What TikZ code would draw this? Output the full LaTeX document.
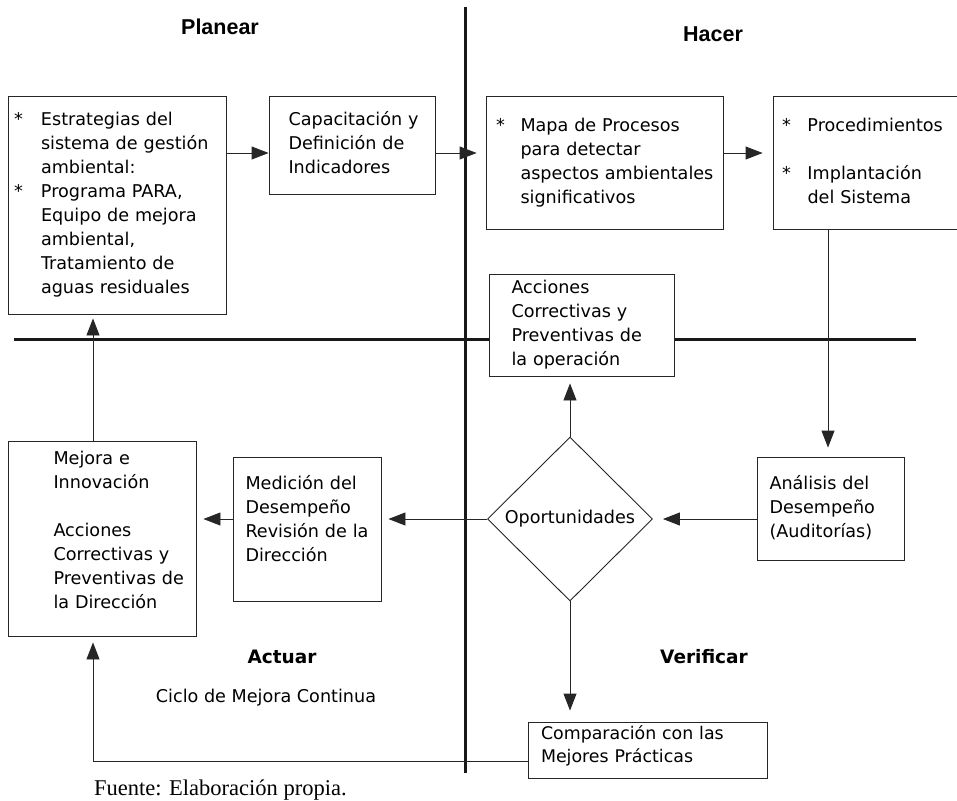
\documentclass[tikz,border=0pt]{standalone}
\usepackage{fontspec}
\setmainfont{DejaVu Sans}
\newfontfamily\headfont{Liberation Sans}
\newfontfamily\srcfont{Liberation Serif}
\usetikzlibrary{shapes.geometric,arrows.meta}
\begin{document}
\begin{tikzpicture}[x=1pt,y=-1pt,
  box/.style={draw=black!85,line width=0.9pt,fill=white,rectangle,inner xsep=0pt,inner ysep=0pt,align=left,font=\fontsize{17.6}{24}\selectfont},
  conn/.style={draw=black!85,line width=0.9pt,-{Triangle[length=17pt,width=13pt]}},
  quad/.style={draw=black!90,line width=3pt},
  headA/.style={font=\headfont\bfseries\fontsize{21.5}{24}\selectfont},
  headB/.style={font=\bfseries\fontsize{18.5}{24}\selectfont},
  plain/.style={font=\fontsize{17.6}{24}\selectfont}]
\useasboundingbox[fill=white] (0,0) rectangle (957,800);

% quadrant lines
\coordinate (vt) at (465,7);
\coordinate (vb) at (465,773);
\coordinate (hl) at (14,339);
\coordinate (hr) at (916,339);
\draw[quad] (vt) -- (vb);
\draw[quad] (hl) -- (hr);

% boxes
\node[box,text width=218pt,minimum height=218pt] (b1) at (117,205)
 {\begin{tabular}{@{\hspace{6pt}}p{27pt}@{}l@{}}
 {*}&Estrategias del\\
  &sistema de gestión\\
  &ambiental:\\
 {*}&Programa PARA,\\
  &Equipo de mejora\\
  &ambiental,\\
  &Tratamiento de\\
  &aguas residuales
 \end{tabular}};

\node[box,text width=166pt,minimum height=98pt] (b2) at (352,145)
 {\begin{tabular}{@{\hspace{19.5pt}}l@{}}
 Capacitación y\\
 Definición de\\
 Indicadores
 \end{tabular}};

\node[box,text width=237pt,minimum height=133pt] (b3) at (604.5,162.5)
 {\begin{tabular}{@{\hspace{10pt}}p{24.5pt}@{}l@{}}
 {*}&Mapa de Procesos\\
  &para detectar\\
  &aspectos ambientales\\
  &significativos
 \end{tabular}};

\node[box,text width=187pt,minimum height=133pt] (b4) at (866.5,162.5)
 {\begin{tabular}{@{\hspace{9pt}}p{25.5pt}@{}l@{}}
 {*}&Procedimientos\\
  &\\
 {*}&Implantación\\
  &del Sistema
 \end{tabular}};

\node[box,text width=185pt,minimum height=102pt] (acc) at (581.5,325)
 {\begin{tabular}{@{\hspace{22.5pt}}l@{}}
 Acciones\\
 Correctivas y\\
 Preventivas de\\
 la operación
 \end{tabular}};

\node[box,text width=188pt,minimum height=195pt] (mej) at (102,538.5)
 {\begin{tabular}{@{\hspace{45.5pt}}l@{}}
 Mejora e\\
 Innovación\\
 \\
 Acciones\\
 Correctivas y\\
 Preventivas de\\
 la Dirección\\[14pt]
 \end{tabular}};

\node[box,text width=148pt,minimum height=144pt] (med) at (307,529)
 {\begin{tabular}{@{\hspace{12.5pt}}l@{}}
 Medición del\\
 Desempeño\\
 Revisión de la\\
 Dirección\\[16pt]
 \end{tabular}};

\node[box,text width=147pt,minimum height=103pt] (ana) at (830.5,508.5)
 {\begin{tabular}{@{\hspace{12.5pt}}l@{}}
 Análisis del\\
 Desempeño\\
 (Auditorías)
 \end{tabular}};

\node[box,text width=239pt,minimum height=56pt,font=\fontsize{17.4}{23}\selectfont] (comp) at (647.5,750)
 {\begin{tabular}{@{\hspace{13pt}}l@{}}
 Comparación con las\\
 Mejores Prácticas\\[7pt]
 \end{tabular}};

\node[draw=black!85,line width=0.9pt,fill=white,diamond,aspect=1,inner sep=0pt,
      minimum width=165pt,minimum height=164pt,plain] (dia) at (570,519) {Oportunidades};

% labels
\node[headA] (planear) at (220,27) {Planear};
\node[headA] (hacer) at (713,34) {Hacer};
\node[headB] (actuar) at (282,657) {Actuar};
\node[headB] (verif) at (704,657) {Verificar};
\node[plain] (ciclo) at (266,698) {Ciclo de Mejora Continua};
\node[font=\srcfont\fontsize{22.5}{26}\selectfont,anchor=base west,inner sep=0pt] (fuente) at (94,795) {Fuente: Elaboración propia.};

% connectors
\coordinate (ra) at (0,153);
\coordinate (cx4) at (828,0);
\coordinate (cx1) at (93,0);
\coordinate (rb) at (0,761);
\draw[conn] (b1.east |- ra) -- (b2.west |- ra);
\draw[conn,shorten >=9pt] (b2.east |- ra) -- (b3.west |- ra);
\draw[conn,shorten >=10pt] (b3.east |- ra) -- (b4.west |- ra);
\draw[conn,shorten >=9pt] (b4.south -| cx4) -- (ana.north -| cx4);
\draw[conn,shorten >=10pt] (ana.west |- dia.east) -- (dia.east);
\draw[conn,shorten >=7pt] (dia.north) -- (acc.south -| dia.north);
\draw[conn,shorten >=7pt] (dia.west) -- (med.east |- dia.west);
\draw[conn,shorten >=7pt] (med.west |- dia.west) -- (mej.east |- dia.west);
\draw[conn,shorten >=4pt] (mej.north -| cx1) -- (b1.south -| cx1);
\draw[conn,shorten >=11pt] (dia.south) -- (comp.north -| dia.south);
\draw[conn,shorten >=6pt] (comp.west |- rb) -| (mej.south -| cx1);
\end{tikzpicture}
\end{document}
